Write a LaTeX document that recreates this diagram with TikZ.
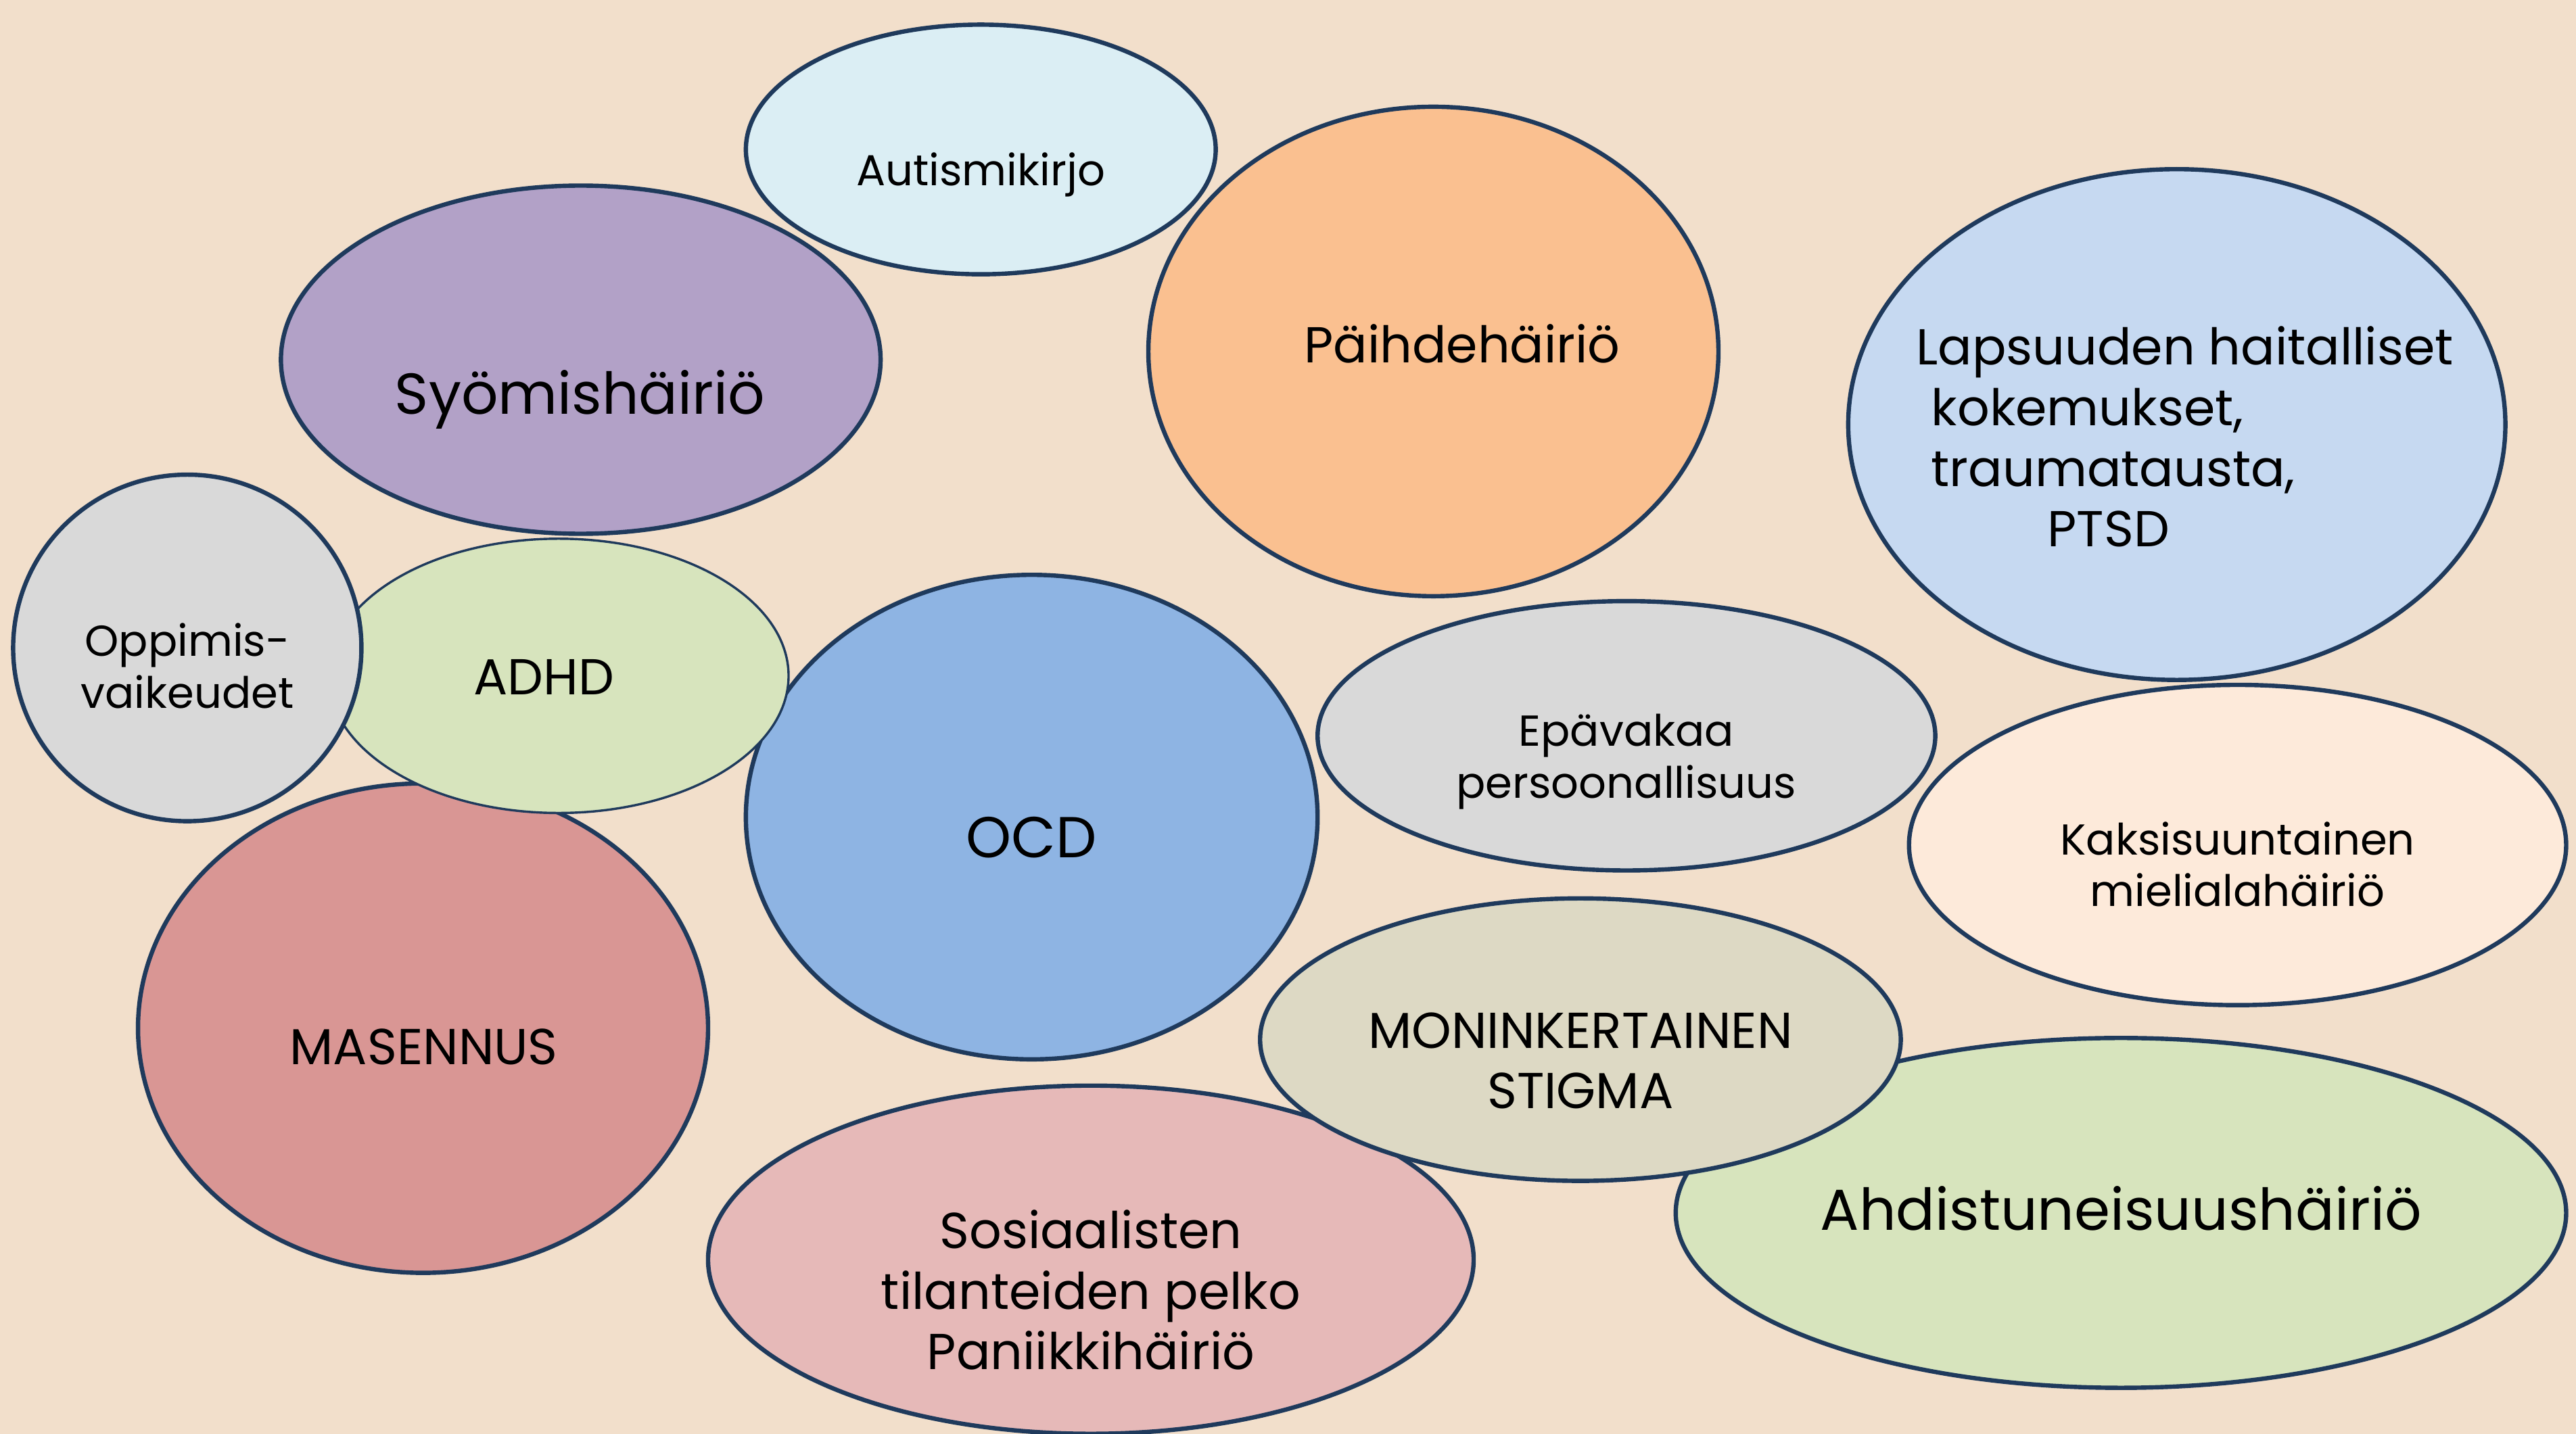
\documentclass[tikz,border=0pt]{standalone}
\usepackage{fontspec}
\setmainfont{Poppins}
\usepackage{xcolor}
\usepackage{tikz}
\usetikzlibrary{shapes.geometric, positioning}
\definecolor{bg}{HTML}{F2DFCB}
\definecolor{edge}{HTML}{1F3A5C}
\tikzstyle{blob} = [ellipse, draw=edge, line width=1.5pt, inner sep=0pt]
\tikzstyle{lbl} = [text=black, align=center, inner sep=0pt, anchor=base]
\tikzstyle{fbig} = [font=\fontsize{20}{24}\selectfont]
\tikzstyle{fmid} = [font=\fontsize{17.5}{21}\selectfont]
\tikzstyle{fsml} = [font=\fontsize{15}{18}\selectfont]

\begin{document}
\begin{tikzpicture}[x=0.2mm,y=-0.2mm]
    \fill[bg] (0,0) rectangle (1568,873);
    \useasboundingbox (0,0) rectangle (1568,873);

    % ellipses, back to front
    \node[blob, fill={rgb,255:red,198;green,217;blue,241}, minimum width=80mm, minimum height=62.2mm] (lapsuus) at (1325,258.5) {};
    \node[blob, fill={rgb,255:red,219;green,238;blue,244}, minimum width=57.2mm, minimum height=30.4mm] (autismi) at (597,91) {};
    \node[blob, fill={rgb,255:red,250;green,192;blue,144}, minimum width=69.4mm, minimum height=59.6mm] (paihde) at (872.5,214) {};
    \node[blob, fill={rgb,255:red,178;green,161;blue,199}, minimum width=73mm, minimum height=42.4mm] (syomis) at (353.5,219) {};
    \node[blob, fill={rgb,255:red,217;green,150;blue,148}, minimum width=69.4mm, minimum height=59.6mm] (masennus) at (257.5,626) {};
    \node[blob, fill={rgb,255:red,142;green,180;blue,227}, minimum width=69.6mm, minimum height=59mm] (ocd) at (628,497.5) {};
    \node[blob, line width=0.8pt, fill={rgb,255:red,215;green,228;blue,189}, minimum width=56mm, minimum height=33.4mm] (adhd) at (340,411.5) {};
    \node[blob, fill={rgb,255:red,217;green,217;blue,217}, minimum width=42.4mm, minimum height=42.2mm] (oppimis) at (114,394.5) {};
    \node[blob, fill={rgb,255:red,217;green,217;blue,217}, minimum width=75.2mm, minimum height=32.8mm] (epavakaa) at (990,448) {};
    \node[blob, fill={rgb,255:red,253;green,234;blue,218}, minimum width=80mm, minimum height=39mm] (kaksi) at (1362,514.5) {};
    \node[blob, fill={rgb,255:red,230;green,185;blue,184}, minimum width=93.2mm, minimum height=42.4mm] (sosiaal) at (664,767) {};
    \node[blob, fill={rgb,255:red,215;green,228;blue,189}, minimum width=108.4mm, minimum height=42.6mm] (ahdist) at (1291,738.5) {};
    \node[blob, fill={rgb,255:red,221;green,217;blue,196}, minimum width=78mm, minimum height=34.4mm] (stigma) at (962,633) {};

    % texts (base = last line)
    \node[lbl, fsml] (autismi-t) at (597,113) {Autismikirjo};
    \node[lbl, fbig] (syomis-t) at (353,252) {Syömishäiriö};
    \node[lbl, fmid] (paihde-t) at (890,221) {Päihdehäiriö};
    \node[lbl, fmid, align=left, anchor=base west] (lapsuus-t) at (1166,333) {Lapsuuden haitalliset\\\hspace*{0.3em}kokemukset,\\\hspace*{0.3em}traumatausta,\\\hspace*{2.6em}PTSD};
    \node[lbl, fsml] (oppimis-t) at (114,431) {Oppimis-\\vaikeudet};
    \node[lbl, fmid] (adhd-t) at (331,423) {ADHD};
    \node[lbl, fbig] (ocd-t) at (628,522) {OCD};
    \node[lbl, fsml] (epavakaa-t) at (990,486) {Epävakaa\\persoonallisuus};
    \node[lbl, fsml] (kaksi-t) at (1362,552) {Kaksisuuntainen\\mielialahäiriö};
    \node[lbl, fmid] (masennus-t) at (258,648) {MASENNUS};
    \node[lbl, fmid] (stigma-t) at (962,675) {MONINKERTAINEN\\STIGMA};
    \node[lbl, fbig] (ahdist-t) at (1291,749) {Ahdistuneisuushäiriö};
    \node[lbl, fmid] (sosiaal-t) at (664,834) {Sosiaalisten\\tilanteiden pelko\\Paniikkihäiriö};
\end{tikzpicture}
\end{document}
